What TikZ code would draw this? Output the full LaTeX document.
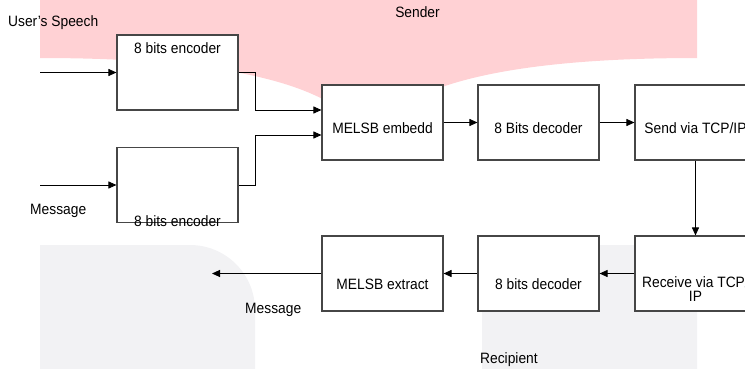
\documentclass[tikz,border=0pt]{standalone}
\usepackage{fontspec}
\setmainfont{Liberation Sans}[FakeStretch=0.92]
\usetikzlibrary{arrows.meta}
\definecolor{pinkbg}{RGB}{255,209,212}
\definecolor{greybg}{RGB}{242,242,244}
\definecolor{boxline}{RGB}{70,70,70}
\begin{document}
\begin{tikzpicture}[x=1pt,y=-1pt,
  box/.style={draw=boxline, line width=1.1pt, fill=white, minimum width=121pt, minimum height=75pt, inner sep=0pt},
  txt/.style={font=\fontsize{15}{12}\selectfont, inner sep=0pt, anchor=base},
  arr/.style={draw=black, line width=0.9pt, -{Triangle[length=8pt,width=7pt]}}]
\useasboundingbox (0,0) rectangle (745,368);
\clip (0,0) rectangle (745,368);
% background shapes
\fill[pinkbg] (40,0) -- (40,58) .. controls (230,58) and (340,85) .. (368,140)
  .. controls (396,85) and (506,58) .. (697,58) -- (697,0) -- cycle;
\fill[greybg] (40,450) -- (40,245) -- (190,245) .. controls (225.9,245) and (255,274.1) .. (255,310) -- (255,450) -- cycle;
\fill[greybg] (697,450) -- (697,245) -- (547,245) .. controls (511.1,245) and (482,274.1) .. (482,310) -- (482,450) -- cycle;
% boxes
\node[box] (enc1) at (177.5,72.5) {};
\node[box] (enc2) at (177.5,185) {};
\node[box] (emb) at (382.5,122.5) {};
\node[box] (dec1) at (538.5,122.5) {};
\node[box] (send) at (695.5,122.5) {};
\node[box] (recv) at (695.5,273.5) {};
\node[box] (dec2) at (538.5,273.5) {};
\node[box] (ext) at (382.5,273.5) {};
% box texts
\node[txt] (enc1t) at (177.5,53.5) {8 bits encoder};
\node[txt] (enc2t) at (177.5,226.5) {8 bits encoder};
\node[txt] (embt) at (382.5,133.5) {MELSB embedd};
\node[txt] (dec1t) at (538.5,133.5) {8 Bits decoder};
\node[txt] (sendt) at (695.5,133.5) {Send via TCP/IP};
\node[txt] (extt) at (382.5,289) {MELSB extract};
\node[txt] (dec2t) at (538.5,289) {8 bits decoder};
\node[txt] (recvt1) at (695.5,287) {Receive via TCP/};
\node[txt] (recvt2) at (695.5,301) {IP};
% free labels
\node[txt, anchor=base west] (speech) at (8,26.5) {User’s Speech};
\node[txt] (sender) at (417.5,17) {Sender};
\node[txt, anchor=base west] (msg1) at (30,214.5) {Message};
\node[txt, anchor=base west] (msg2) at (245,313) {Message};
\node[txt, anchor=base west] (recip) at (480,363) {Recipient};
% connectors
\coordinate (in1) at (40,72.5);
\coordinate (in2) at (40,185);
\coordinate (out) at (212,273.5);
\draw[arr] (in1) -- (enc1.west);
\draw[arr] (in2) -- (enc2.west);
\draw[arr] (enc1.east) -- ++(17,0) |- ([yshift=12.5pt]emb.west);
\draw[arr] (enc2.east) -- ++(17,0) |- ([yshift=-12.5pt]emb.west);
\draw[arr] (emb) -- (dec1);
\draw[arr] (dec1) -- (send);
\draw[arr] (send) -- (recv);
\draw[arr] (recv) -- (dec2);
\draw[arr] (dec2) -- (ext);
\draw[arr] (ext) -- (out);
\end{tikzpicture}
\end{document}
